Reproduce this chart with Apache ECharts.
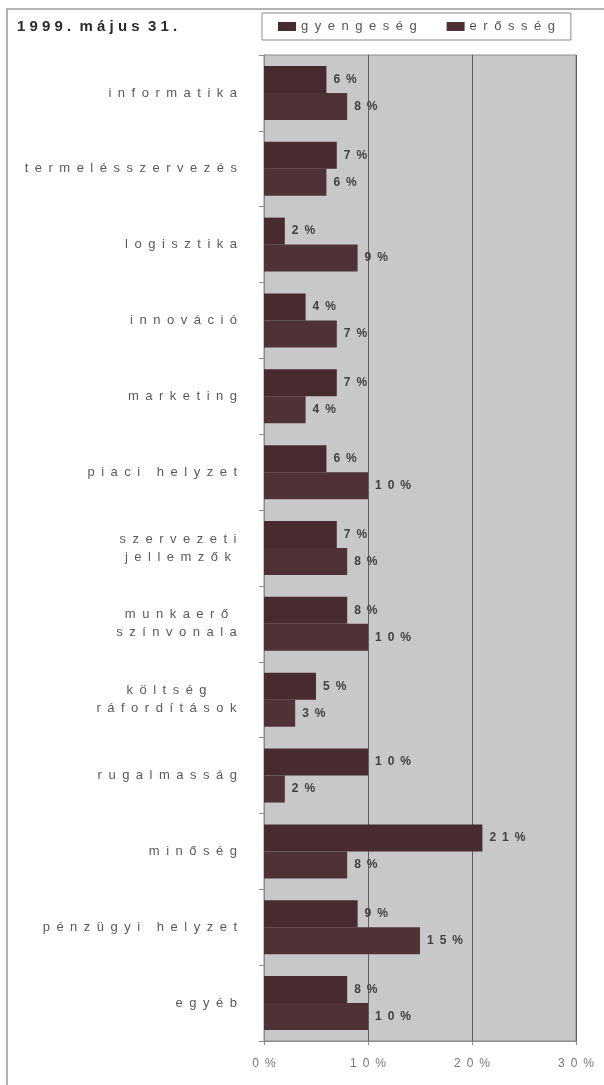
<!DOCTYPE html>
<html>
<head>
<meta charset="utf-8">
<script src="https://cdn.jsdelivr.net/npm/echarts@6/dist/echarts.min.js"></script>
<style>
  html, body { margin: 0; padding: 0; background: #fff; }
  #chart { width: 604px; height: 1085px; }
</style>
</head>
<body>
<div id="chart"></div>
<script>
// adatok a képről
const titleText = '1999. május 31.';
const categories = [
  'informatika', 'termelésszervezés', 'logisztika', 'innováció', 'marketing',
  'piaci helyzet', 'szervezeti\njellemzők', 'munkaerő\nszínvonala', 'költség\nráfordítások',
  'rugalmasság', 'minőség', 'pénzügyi helyzet', 'egyéb'
];
const gyengeseg = [6, 7, 2, 4, 7, 6, 7, 8, 5, 10, 21, 9, 8];
const erosseg = [8, 6, 9, 7, 4, 10, 8, 10, 3, 2, 8, 15, 10];
const xTicks = [0, 10, 20, 30];

const FONT = 'Liberation Sans';

// ritkított betűköz (a szkennelt ábrán széthúzott betűk)
function spaced(s, gap) {
  gap = gap || '\u2002';
  return s.split('\n').map(l => l.split('').join(gap)).join('\n');
}

const measureCtx = document.createElement('canvas').getContext('2d');
function textW(s, size) {
  measureCtx.font = size + 'px ' + FONT;
  return measureCtx.measureText(s).width;
}

// többsoros feliratok sorai középre igazítva
function catLabel(v) {
  const lines = spaced(v).split('\n');
  if (lines.length === 1) return lines[0];
  const w = Math.ceil(Math.max(...lines.map(l => textW(l, 13))));
  return lines.map(l => '{c' + w + '|' + l + '}').join('\n');
}
const rich = {};
categories.forEach(c => {
  const lines = spaced(c).split('\n');
  if (lines.length > 1) {
    const w = Math.ceil(Math.max(...lines.map(l => textW(l, 13))));
    rich['c' + w] = { width: w, align: 'center', fontSize: 13, lineHeight: 18, color: '#5a5a5a', fontFamily: FONT };
  }
});

const barLabel = {
  show: true,
  position: 'right',
  distance: 7,
  color: '#404040',
  fontSize: 12,
  fontWeight: 'bold',
  fontFamily: FONT,
  formatter: p => spaced(p.value + '%')
};

const chart = echarts.init(document.getElementById('chart'));
chart.setOption({
  backgroundColor: '#fff',
  animation: false,
  title: {
    text: spaced(titleText, ' ').replace(/   /g, '  '),
    left: 12,
    top: 14,
    textStyle: { fontSize: 15, fontWeight: 'bold', color: '#2a2a2a', fontFamily: FONT }
  },
  legend: {
    left: 262,
    top: 13,
    padding: [7, 16],
    itemGap: 30,
    itemWidth: 18,
    itemHeight: 9,
    borderColor: '#8a8a8a',
    borderWidth: 1,
    backgroundColor: '#fff',
    icon: 'rect',
    formatter: n => spaced(n),
    textStyle: { fontSize: 13, color: '#555', fontFamily: FONT }
  },
  graphic: [{
    type: 'rect',
    shape: { x: 7, y: 9, width: 800, height: 1200 },
    style: { fill: 'none', stroke: '#9a9a9a', lineWidth: 1.5 },
    silent: true
  }],
  grid: {
    left: 264,
    right: 28,
    top: 55,
    bottom: 44,
    show: true,
    backgroundColor: '#c9c8c8',
    borderColor: '#8a8a8a',
    borderWidth: 1
  },
  xAxis: {
    type: 'value',
    min: xTicks[0],
    max: xTicks[xTicks.length - 1],
    interval: 10,
    axisLine: { show: true, lineStyle: { color: '#8a8a8a' } },
    axisTick: { show: true, length: 4, lineStyle: { color: '#8a8a8a' } },
    axisLabel: {
      margin: 17,
      color: '#777',
      fontSize: 12,
      fontFamily: FONT,
      formatter: v => spaced(v + '%')
    },
    splitLine: { show: true, lineStyle: { color: '#5e5e5e', width: 1 } }
  },
  yAxis: {
    type: 'category',
    inverse: true,
    data: categories,
    axisLine: { show: true, lineStyle: { color: '#8a8a8a' } },
    axisTick: { show: true, length: 5, lineStyle: { color: '#8a8a8a' } },
    axisLabel: {
      margin: 27,
      color: '#5a5a5a',
      fontSize: 13,
      fontFamily: FONT,
      lineHeight: 18,
      formatter: catLabel,
      rich: rich
    }
  },
  series: [
    {
      name: 'gyengeség',
      type: 'bar',
      data: gyengeseg,
      barWidth: 27,
      barGap: '0%',
      itemStyle: { color: '#472b2f' },
      label: barLabel
    },
    {
      name: 'erősség',
      type: 'bar',
      data: erosseg,
      barWidth: 27,
      itemStyle: { color: '#4f3236' },
      label: barLabel
    }
  ]
});
window.addEventListener('resize', function () {
  chart.resize();
});
</script>
</body>
</html>
